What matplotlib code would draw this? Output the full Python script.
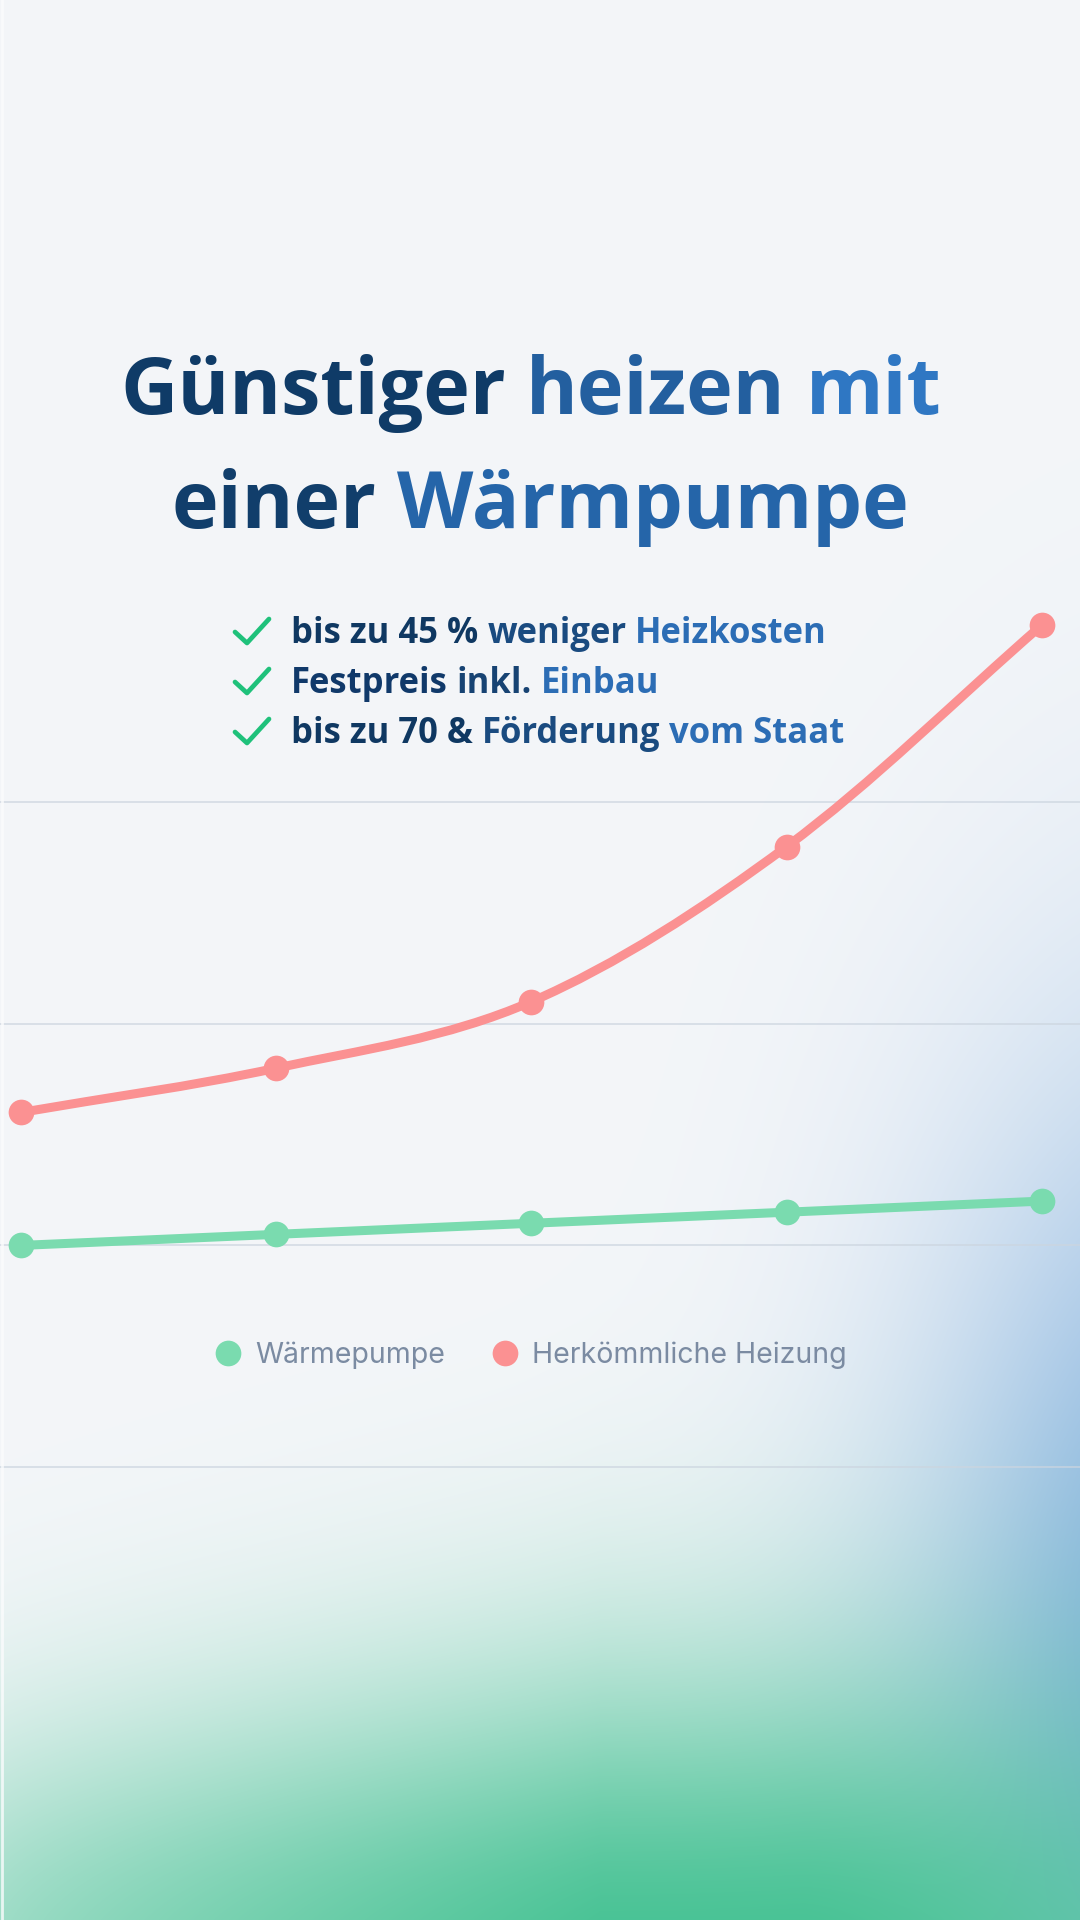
import numpy as np
import matplotlib
matplotlib.use("Agg")
import matplotlib.pyplot as plt
from matplotlib.path import Path
from matplotlib.patches import PathPatch
from matplotlib.lines import Line2D
from matplotlib.colors import to_rgb

# --- DATA ---
jahre = ["Jahr 1", "Jahr 2", "Jahr 3", "Jahr 4", "Jahr 5"]
waermepumpe = [1000, 1050, 1100, 1150, 1200]
herkoemmlich = [1600, 1800, 2100, 2800, 3800]
raster_werte = [0, 1000, 2000, 3000]
serien_namen = ["Wärmepumpe", "Herkömmliche Heizung"]

titel_zeilen = [
    [("Günstiger", "#0F3B67"), ("heizen", "#235F9F"), ("mit", "#2F77C3")],
    [("einer", "#113E6B"), ("Wärmpumpe", "#2565A9")],
]
vorteile = [
    [("bis zu 45 %", "#0F3862"), ("weniger", "#1A4B80"), ("Heizkosten", "#2C6DB5")],
    [("Festpreis", "#10396A"), ("inkl.", "#174373"), ("Einbau", "#2C6DB5")],
    [("bis zu 70 &", "#0F3862"), ("Förderung", "#1A4B80"), ("vom Staat", "#2C6DB5")],
]

GRUEN = "#7ADBAF"
ROT = "#FB9192"
W, H = 1080, 1920

# --- BACKGROUND (soft glows) ---
yy, xx = np.mgrid[0:H, 0:W].astype(float)
img = np.ones((H, W, 3)) * np.array(to_rgb("#F4F6F9"))


def mischen(bild, farbe, alpha):
    return bild * (1 - alpha[..., None]) + np.array(to_rgb(farbe)) * alpha[..., None]


# blue glow on the right edge
rb = np.sqrt((xx - 1200) ** 2 + ((yy - 1650) / 2) ** 2) / 280
img = mischen(img, "#7EAEDD", 0.95 * np.exp(-rb ** 2))

# green glow from the bottom
lx = np.clip(xx / 600, 0, 1)
sig = 235 + 60 * lx
f = 0.5 + 0.5 * lx ** 0.8 - 0.25 * np.clip((xx - 800) / 280, 0, 1) ** 1.5
ag = 0.97 * f * np.exp(-((yy - 1960) / sig) ** 2)
img = mischen(img, "#42C191", ag)

fig = plt.figure(figsize=(W / 100, H / 100), dpi=100)
bg = fig.add_axes([0, 0, 1, 1])
bg.imshow(img, extent=[0, W, H, 0], aspect="auto", interpolation="bilinear")
bg.set_axis_off()

# --- CHART ---
ax = fig.add_axes([0, 0, 1, 1])
ax.patch.set_alpha(0)
ax.set_xlim(-0.0815, 4.149)
ax.set_ylim(-2044, 6620)
ax.set_yticks(raster_werte)
ax.set_xticks([])
ax.tick_params(left=False, labelleft=False)
for s in ax.spines.values():
    s.set_visible(False)
ax.grid(axis="y", color="#CCD5DF", linewidth=1.2, alpha=0.8)
ax.set_axisbelow(True)


def kurve(werte, farbe):
    x = np.arange(len(werte), dtype=float)
    y = np.array(werte, dtype=float)
    d = np.diff(y)
    m = np.empty_like(y)
    m[0], m[-1] = d[0], d[-1]
    m[1:-1] = (d[:-1] + d[1:]) / 2
    verts = [(x[0], y[0])]
    codes = [Path.MOVETO]
    for i in range(len(x) - 1):
        h = x[i + 1] - x[i]
        verts += [(x[i] + h / 3, y[i] + m[i] * h / 3),
                  (x[i + 1] - h / 3, y[i + 1] - m[i + 1] * h / 3),
                  (x[i + 1], y[i + 1])]
        codes += [Path.CURVE4] * 3
    ax.add_patch(PathPatch(Path(verts, codes), fill=False, edgecolor=farbe,
                           linewidth=6.5, capstyle="round", joinstyle="round", zorder=3))
    ax.plot(x, y, "o", color=farbe, markersize=18.5, markeredgewidth=0, zorder=4)


kurve(waermepumpe, GRUEN)
kurve(herkoemmlich, ROT)

handles = [Line2D([], [], marker="o", linestyle="none", markersize=18.5,
                  markeredgewidth=0, color=c, label=n)
           for c, n in zip([GRUEN, ROT], serien_namen)]
ax.legend(handles=handles, loc="center", bbox_to_anchor=(530 / W, 1 - 1355 / H),
          bbox_transform=fig.transFigure, ncol=2, frameon=False,
          prop={"family": "Inter", "size": 20.5}, labelcolor="#7B8BA2",
          handlelength=1.0, handletextpad=0.45, columnspacing=1.6)

# --- TEXT OVERLAY ---
ov = fig.add_axes([0, 0, 1, 1])
ov.set_xlim(0, W)
ov.set_ylim(H, 0)
ov.set_axis_off()
ov.patch.set_alpha(0)
ov.plot([1.5, 1.5], [0, H], color="#FBFCFD", linewidth=2, alpha=0.8)
renderer = fig.canvas.get_renderer()
FONT = "Open Sans"


def breite(s, size):
    t = ov.text(0, 0, s, fontsize=size, fontweight="bold", family=FONT)
    w = t.get_window_extent(renderer).width
    t.remove()
    return w


def zeile(teile, y, size, x_links=None, x_mitte=None):
    woerter = [w for w, _ in teile]
    gesamt = breite(" ".join(woerter), size)
    x0 = x_links if x_links is not None else x_mitte - gesamt / 2
    for k, (w, c) in enumerate(teile):
        start = breite(" ".join(woerter[:k + 1]), size) - breite(w, size)
        ov.text(x0 + start, y, w, fontsize=size, fontweight="bold", family=FONT,
                color=c, va="baseline", ha="left")


# title: fit first line to reference width
t_size = 50 * 824 / breite(" ".join(w for w, _ in titel_zeilen[0]), 50)
zeile(titel_zeilen[0], 414, t_size, x_mitte=531)
zeile(titel_zeilen[1], 528, t_size, x_mitte=540)

# check list
v_size = 20 * 537 / breite(" ".join(w for w, _ in vorteile[0]), 20)
for i, teile in enumerate(vorteile):
    b = 643 + 50 * i
    ov.plot([235, 247, 269], [b - 11, b, b - 24], color="#1FC17B", linewidth=3.4,
            solid_capstyle="round", solid_joinstyle="round")
    zeile(teile, b, v_size, x_links=291)

fig.savefig("out.png", dpi=100)
